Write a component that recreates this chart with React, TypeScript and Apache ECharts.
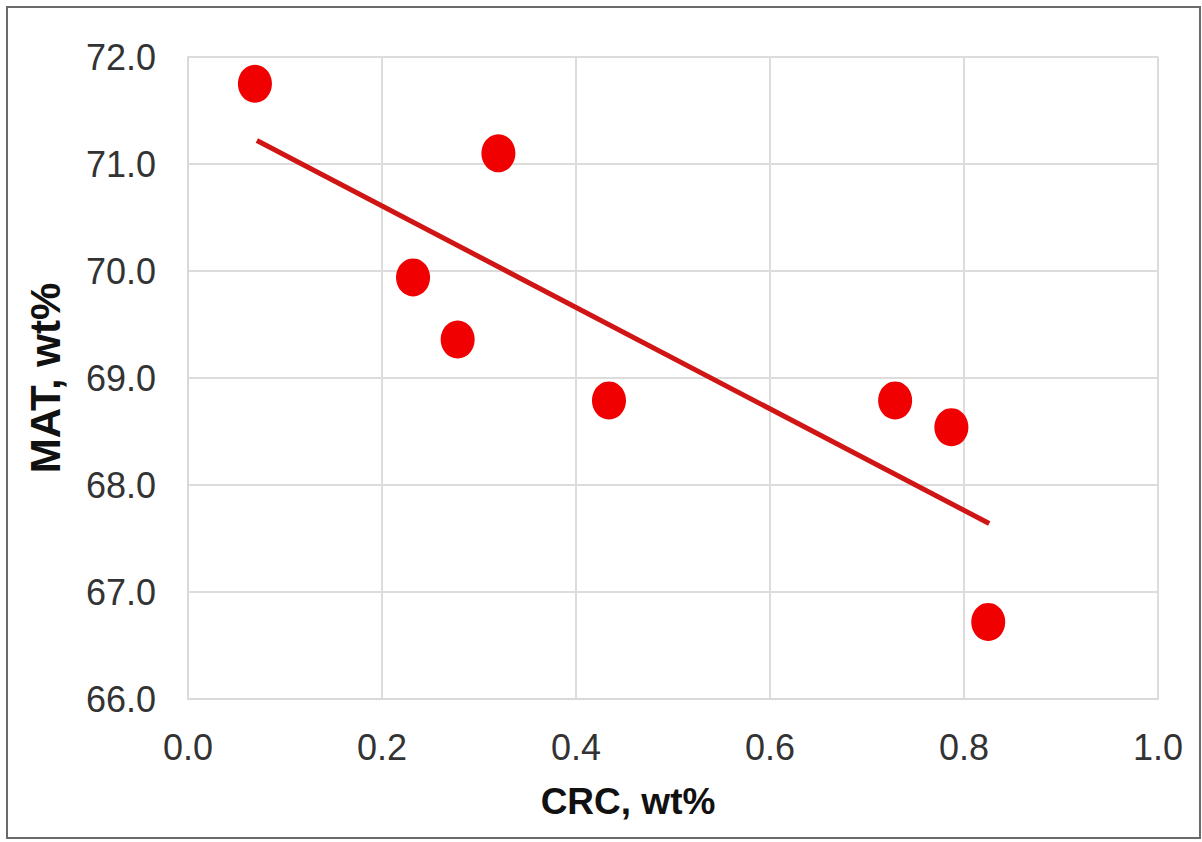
import React, { useEffect, useRef } from "react";
import * as echarts from "echarts";

const crcValues = [0.069, 0.32, 0.232, 0.278, 0.434, 0.729, 0.787, 0.825];
const matValues = [71.75, 71.1, 69.94, 69.36, 68.79, 68.79, 68.54, 66.72];
const trendX = [0.071, 0.826];
const trendY = [71.22, 67.64];
const xTitle = "CRC, wt%";
const yTitle = "MAT, wt%";

export default function App() {
  const ref = useRef<HTMLDivElement>(null);
  useEffect(() => {
    if (!ref.current) return;
    const chart = echarts.init(ref.current, undefined, { renderer: "svg" });
    const font = "Liberation Sans, Arial, sans-serif";
    chart.setOption({
      animation: false,
      backgroundColor: "#ffffff",
      grid: { left: 188, right: 44, top: 57, bottom: 143 },
      graphic: [
        {
          type: "rect",
          shape: { x: 7, y: 7, width: 1193, height: 831 },
          style: { fill: "none", stroke: "#6a6a6a", lineWidth: 2 },
          silent: true,
        },
      ],
      xAxis: {
        type: "value",
        min: 0,
        max: 1,
        interval: 0.2,
        name: xTitle,
        nameLocation: "middle",
        nameGap: 84,
        nameTextStyle: {
          fontFamily: font,
          fontSize: 37,
          fontWeight: "bold",
          color: "#111",
          padding: [0, 90, 0, 0],
        },
        axisLine: { show: true, lineStyle: { color: "#d9d9d9", width: 2 } },
        axisTick: { show: false },
        splitLine: { show: true, lineStyle: { color: "#dcdcdc", width: 2 } },
        axisLabel: {
          fontFamily: font,
          fontSize: 36,
          color: "#333",
          margin: 30,
          formatter: (v: number) => v.toFixed(1),
        },
      },
      yAxis: {
        type: "value",
        min: 66,
        max: 72,
        interval: 1,
        name: yTitle,
        nameLocation: "middle",
        nameGap: 122,
        nameRotate: 90,
        nameTextStyle: { fontFamily: font, fontSize: 42, fontWeight: "bold", color: "#111" },
        axisLine: { show: true, lineStyle: { color: "#d9d9d9", width: 2 } },
        axisTick: { show: false },
        splitLine: { show: true, lineStyle: { color: "#dcdcdc", width: 2 } },
        axisLabel: {
          fontFamily: font,
          fontSize: 36,
          color: "#333",
          margin: 32,
          formatter: (v: number) => v.toFixed(1),
        },
      },
      series: [
        {
          type: "line",
          data: trendX.map((x, i) => [x, trendY[i]]),
          symbol: "none",
          lineStyle: { color: "#d01515", width: 5 },
          z: 2,
        },
        {
          type: "scatter",
          data: crcValues.map((x, i) => [x, matValues[i]]),
          symbol: "circle",
          symbolSize: [34, 38],
          itemStyle: { color: "#f00000", opacity: 1 },
          z: 3,
        },
      ],
    });
    return () => chart.dispose();
  }, []);
  return (
    <div
      ref={ref}
      style={{ position: "absolute", left: 0, top: 0, width: 1202, height: 842 }}
    />
  );
}
